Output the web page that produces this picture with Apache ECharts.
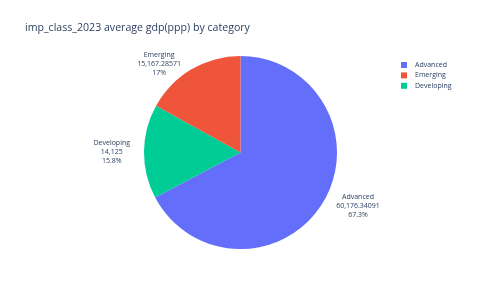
<!DOCTYPE html>
<html>
<head>
<meta charset="utf-8">
<script src="https://cdn.jsdelivr.net/npm/echarts@6/dist/echarts.min.js"></script>
<style>
html,body{margin:0;padding:0;background:#fff;}
#chart{width:478px;height:295px;}
</style>
</head>
<body>
<div id="chart"></div>
<script>
// Data (order drawn clockwise from 12 o'clock)
const categories = ['Advanced', 'Developing', 'Emerging'];
const values = [60176.34091, 14125, 15167.28571];
const legendOrder = ['Advanced', 'Emerging', 'Developing'];
const colors = { Advanced: '#636efa', Emerging: '#EF553B', Developing: '#00cc96' };
const titleText = 'imp_class_2023 average gdp(ppp) by category';

const textColor = '#2a3f5f';
const fontFamily = '"Open Sans", "Noto Sans", sans-serif';

const chart = echarts.init(document.getElementById('chart'), null, { renderer: 'canvas' });

const total = values.reduce((a, b) => a + b, 0);
const fmt = v => v.toLocaleString('en-US', { maximumFractionDigits: 5 });
const pct = v => String(Math.round(v / total * 1000) / 10);

chart.setOption({
  backgroundColor: '#ffffff',
  animation: false,
  title: {
    text: titleText,
    left: 20,
    top: 17,
    textStyle: { color: textColor, fontFamily: fontFamily, fontSize: 10.6, fontWeight: 'normal' }
  },
  legend: {
    data: legendOrder,
    orient: 'vertical',
    left: 396,
    top: 56,
    icon: 'rect',
    itemWidth: 6,
    itemHeight: 6,
    itemGap: 2.4,
    textStyle: { color: textColor, fontFamily: fontFamily, fontSize: 7, lineHeight: 8, padding: [0, 0, 0, 3] }
  },
  series: [{
    type: 'pie',
    center: [240.5, 152.5],
    radius: 96.5,
    startAngle: 90,
    clockwise: true,
    avoidLabelOverlap: false,
    itemStyle: { borderWidth: 0 },
    emphasis: { disabled: true },
    data: categories.map((c, i) => ({ name: c, value: values[i], itemStyle: { color: colors[c] } })),
    label: {
      show: true,
      position: 'outside',
      color: textColor,
      fontFamily: fontFamily,
      fontSize: 7,
      lineHeight: 9,
      formatter: p => p.name + '\n' + fmt(p.value) + '\n' + pct(p.value) + '%'
    },
    labelLine: { show: false, length: 7, length2: 2 },
    labelLayout: function (params) {
      const r = params.labelRect;
      return { x: r.x + r.width / 2, y: r.y + r.height / 2 + 0.5, align: 'center', verticalAlign: 'middle' };
    }
  }]
});
</script>
</body>
</html>
